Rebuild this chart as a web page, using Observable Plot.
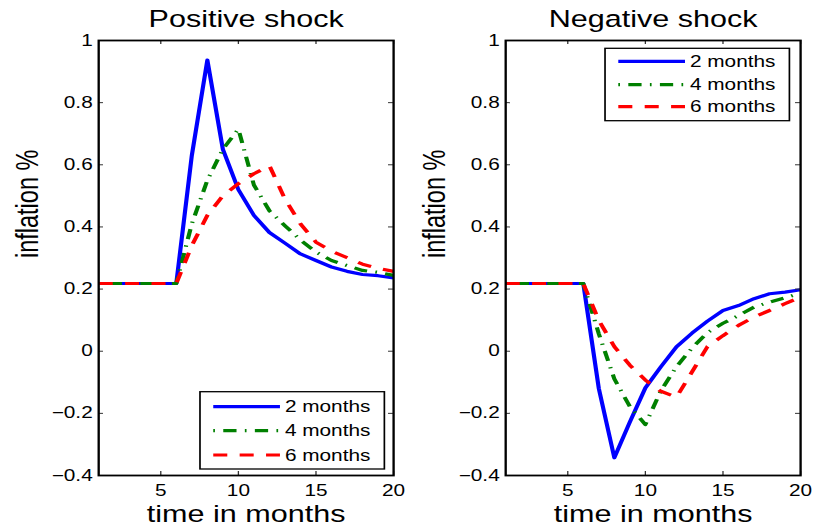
<!DOCTYPE html>
<html>
<head>
<meta charset="utf-8">
<script src="https://cdn.jsdelivr.net/npm/d3@7"></script>
<script src="https://cdn.jsdelivr.net/npm/@observablehq/plot@0.6"></script>
<style>
  html, body { margin: 0; padding: 0; background: #fff; }
  #wrap { width: 626px; height: 529px; display: flex; transform: scaleX(1.3003); transform-origin: 0 0; }
  #wrap svg { display: block; }
</style>
</head>
<body>
<div id="wrap"></div>
<script>
// ---- data ----
const months = [1, 2, 3, 4, 5, 6, 7, 8, 9, 10, 11, 12, 13, 14, 15, 16, 17, 18, 19, 20];
const xTicks = [5, 10, 15, 20];
const yTicks = [-0.4, -0.2, 0, 0.2, 0.4, 0.6, 0.8, 1];
const seriesNames = ["2 months", "4 months", "6 months"];

const positive2 = [0.218, 0.218, 0.218, 0.218, 0.218, 0.218, 0.63, 0.937, 0.65, 0.52, 0.437, 0.382, 0.348, 0.313, 0.292, 0.271, 0.257, 0.247, 0.243, 0.236];
const positive4 = [0.218, 0.218, 0.218, 0.218, 0.218, 0.218, 0.41, 0.55, 0.65, 0.715, 0.535, 0.452, 0.404, 0.358, 0.319, 0.292, 0.276, 0.26, 0.254, 0.244];
const positive6 = [0.218, 0.218, 0.218, 0.218, 0.218, 0.218, 0.34, 0.437, 0.50, 0.539, 0.571, 0.597, 0.49, 0.41, 0.351, 0.322, 0.301, 0.28, 0.267, 0.257];

const negative2 = [0.218, 0.218, 0.218, 0.218, 0.218, 0.218, -0.12, -0.343, -0.228, -0.118, -0.05, 0.014, 0.058, 0.097, 0.131, 0.147, 0.169, 0.185, 0.19, 0.198];
const negative4 = [0.218, 0.218, 0.218, 0.218, 0.218, 0.218, 0.056, -0.089, -0.178, -0.236, -0.127, -0.05, 0.01, 0.06, 0.09, 0.115, 0.142, 0.158, 0.172, 0.187];
const negative6 = [0.218, 0.218, 0.218, 0.218, 0.218, 0.218, 0.099, 0.015, -0.045, -0.093, -0.129, -0.148, -0.067, 0.015, 0.05, 0.083, 0.11, 0.131, 0.153, 0.174];

// ---- styles ----
const seriesColors = ["#0000ff", "#008000", "#ff0000"];
const seriesDash = [null, "1.3,6.4,10.2,6.4", "10.8,9.5"];
const FONT = "'Liberation Sans', Arial, Helvetica, sans-serif";

const W = 313, H = 529, mL = 75.4, mR = 10.8, mT = 40, mB = 54;
const iw = W - mL - mR, ih = H - mT - mB;

function panel(title, series, legend) {
  const rows = [];
  seriesNames.forEach((s, i) => series[i].forEach((v, j) => rows.push({t: months[j], v, s})));
  const svg = Plot.plot({
    width: W, height: H,
    marginLeft: mL, marginRight: mR, marginTop: mT, marginBottom: mB,
    style: {fontFamily: FONT, fontSize: "16px", color: "black", background: "white", overflow: "visible"},
    x: {domain: [1, 20]},
    y: {domain: [-0.4, 1]},
    marks: [
      ...seriesNames.map((s, i) => Plot.line(rows.filter(r => r.s === s), {
        x: "t", y: "v", stroke: seriesColors[i], strokeWidth: 3.2,
        strokeDasharray: seriesDash[i], strokeLinecap: "butt", strokeLinejoin: "round"
      })),
      Plot.tickX(xTicks, {x: d => d, insetTop: ih - 4, stroke: "#333", strokeWidth: 1}),
      Plot.tickX(xTicks, {x: d => d, insetBottom: ih - 4, stroke: "#333", strokeWidth: 1}),
      Plot.tickY(yTicks, {y: d => d, insetRight: iw - 3.8, stroke: "#333", strokeWidth: 1}),
      Plot.tickY(yTicks, {y: d => d, insetLeft: iw - 3.8, stroke: "#333", strokeWidth: 1}),
      Plot.axisX({ticks: xTicks, tickSize: 0, tickPadding: 9.5, label: null, fontSize: 16}),
      Plot.axisY({ticks: yTicks, tickSize: 0, tickPadding: 4.6, label: null, fontSize: 16, tickFormat: d3.format("~g")}),
      Plot.frame({stroke: "black", strokeWidth: 1.8}),
      Plot.text([title], {frameAnchor: "top", dy: -13.3, lineAnchor: "bottom", fontSize: 23.5, fill: "black"}),
      Plot.text(["time in months"], {frameAnchor: "bottom", dy: 46.5, lineAnchor: "bottom", fontSize: 23.5, fill: "black"}),
      Plot.text(["inflation %"], {frameAnchor: "left", dx: -46.95, rotate: -90, lineAnchor: "bottom", fontSize: 23.5, fill: "black"})
    ]
  });

  // legend box inside the axes
  const g = d3.select(svg).append("g").attr("transform", `translate(${legend.x},${legend.y})`);
  g.append("rect").attr("width", 141.8).attr("height", legend.h)
    .attr("fill", "white").attr("stroke", "black").attr("stroke-width", 1.3);
  seriesNames.forEach((s, i) => {
    const yy = legend.rows[i];
    g.append("line").attr("x1", 10.2).attr("x2", 61.5).attr("y1", yy).attr("y2", yy)
      .attr("stroke", seriesColors[i]).attr("stroke-width", 3.2)
      .attr("stroke-dasharray", seriesDash[i]).attr("stroke-linecap", "butt");
    g.append("text").attr("x", 65.3).attr("y", yy).attr("dy", "0.35em")
      .attr("text-anchor", "start")
      .attr("font-size", 16).attr("font-family", FONT).attr("fill", "black").text(s);
  });
  return svg;
}

const wrap = document.getElementById("wrap");
wrap.appendChild(panel("Positive shock", [positive2, positive4, positive6],
  {x: 153.8, y: 391.7, h: 77.3, rows: [15, 39, 63.3]}));
wrap.appendChild(panel("Negative shock", [negative2, negative4, negative6],
  {x: 152.3, y: 48.3, h: 72.4, rows: [13, 36.4, 58.4]}));
</script>
</body>
</html>
